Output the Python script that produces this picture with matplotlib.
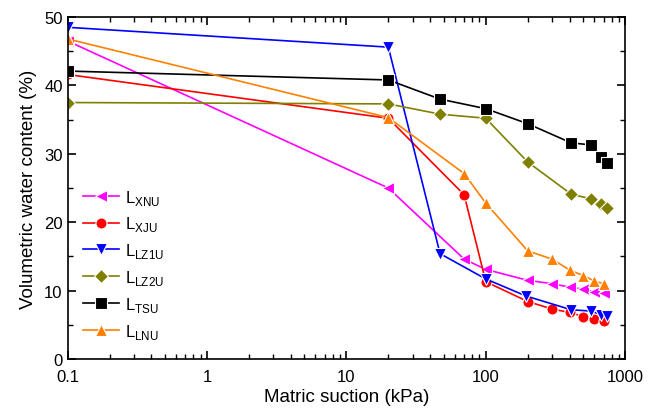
import matplotlib
matplotlib.use('Agg')
import matplotlib.pyplot as plt
from matplotlib.ticker import MultipleLocator, LogLocator, FixedLocator, NullFormatter

plt.rcParams['font.family'] = ['Liberation Sans', 'DejaVu Sans']
plt.rcParams['mathtext.fontset'] = 'custom'
plt.rcParams['mathtext.rm'] = 'Liberation Sans'

# suction (kPa) and volumetric water content (%) per soil
x_xnu = [0.1, 20, 70, 100, 200, 300, 400, 500, 600, 700]
y_xnu = [46.5, 25.0, 14.6, 13.1, 11.5, 11.0, 10.5, 10.2, 9.8, 9.6]

x_xju = [0.1, 20, 70, 100, 200, 300, 400, 500, 600, 700]
y_xju = [41.6, 35.2, 24.0, 11.3, 8.4, 7.3, 6.8, 6.2, 5.9, 5.6]

x_lz1u = [0.1, 20, 47, 100, 195, 410, 570, 670, 740]
y_lz1u = [48.5, 45.6, 15.4, 11.7, 9.2, 7.2, 7.0, 6.5, 6.3]

x_lz2u = [0.1, 20, 47, 100, 200, 410, 570, 670, 740]
y_lz2u = [37.5, 37.3, 35.8, 35.2, 28.8, 24.1, 23.4, 22.7, 22.1]

x_tsu = [0.1, 20, 47, 100, 200, 410, 570, 670, 740]
y_tsu = [42.1, 40.8, 38.0, 36.6, 34.4, 31.6, 31.3, 29.6, 28.7]

x_lnu = [0.1, 20, 70, 100, 200, 300, 400, 500, 600, 700]
y_lnu = [46.8, 35.3, 27.1, 22.8, 15.8, 14.6, 13.0, 12.2, 11.4, 11.0]

series = [
    (x_xnu, y_xnu, '#FF00FF', '<', r'L$_{\mathrm{XNU}}$'),
    (x_xju, y_xju, '#FF0000', 'o', r'L$_{\mathrm{XJU}}$'),
    (x_lz1u, y_lz1u, '#0000FF', 'v', r'L$_{\mathrm{LZ1U}}$'),
    (x_lz2u, y_lz2u, '#808000', 'D', r'L$_{\mathrm{LZ2U}}$'),
    (x_tsu, y_tsu, '#000000', 's', r'L$_{\mathrm{TSU}}$'),
    (x_lnu, y_lnu, '#FF8000', '^', r'L$_{\mathrm{LNU}}$'),
]

fig = plt.figure(figsize=(6.56, 4.10), dpi=100)
ax = fig.add_axes([0.103, 0.122, 0.850, 0.834])

for x, y, c, m, lab in series:
    ms = 7 if m == 'D' else 8
    ax.plot(x, y, color=c, marker=m, ms=ms, lw=1.2, mec='white', mew=0.8,
            label=lab)

ax.set_xscale('log')
ax.set_xlim(0.1, 1000)
ax.set_ylim(0, 50)
ax.yaxis.set_major_locator(MultipleLocator(10))
ax.yaxis.set_minor_locator(MultipleLocator(5))
ax.xaxis.set_major_locator(FixedLocator([0.1, 1, 10, 100, 1000]))
ax.xaxis.set_minor_locator(LogLocator(base=10, subs=range(2, 10)))
ax.xaxis.set_minor_formatter(NullFormatter())
ax.set_xticklabels(['0.1', '1', '10', '100', '1000'])

ax.tick_params(which='both', direction='in', top=True, right=True, labelsize=12)
ax.tick_params(which='major', length=6, width=1.2)
ax.tick_params(axis='x', which='major', pad=7)
ax.tick_params(which='minor', length=3.5, width=1)
for s in ax.spines.values():
    s.set_linewidth(1.2)

ax.set_xlabel('Matric suction (kPa)', fontsize=13.5, labelpad=3)
ax.set_ylabel('Volumetric water content (%)', fontsize=13.5, labelpad=5)

ax.legend(loc='upper left', bbox_to_anchor=(0.0, 0.545), frameon=False, fontsize=12,
          handlelength=2.2, labelspacing=0.47, handletextpad=0.35)

fig.savefig('out.png', dpi=100)
